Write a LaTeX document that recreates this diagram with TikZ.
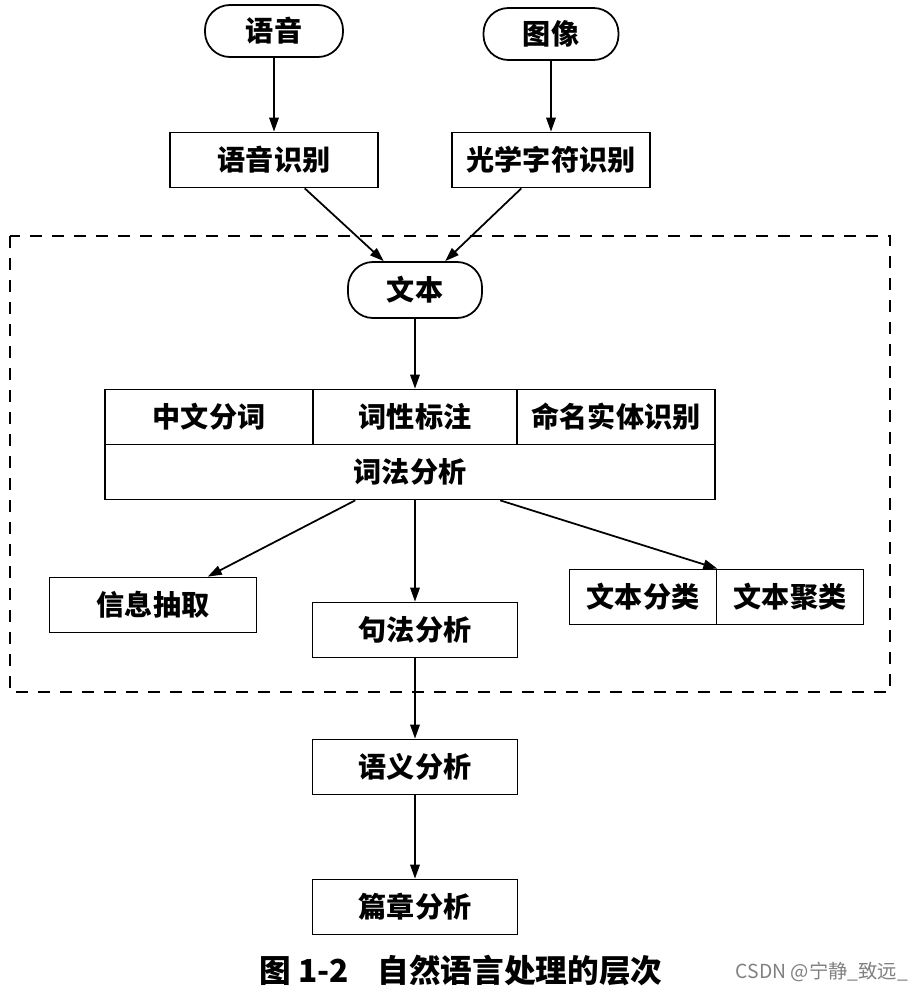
\documentclass[tikz,border=0pt]{standalone}
\usepackage{fontspec}
\newfontfamily\cjk{Noto Sans CJK SC}
\usetikzlibrary{arrows.meta}

\begin{document}
\begin{tikzpicture}[x=0.2mm, y=-0.2mm, >={Triangle[length=2.8mm,width=1.9mm]}, line width=1pt,
		box/.style={draw, rectangle, inner sep=0pt, minimum height=11mm,
			font=\cjk\bfseries\fontsize{16}{18}\selectfont},
		src/.style={box, rounded corners=5mm}]
				\useasboundingbox (0,0) rectangle (917,1000);
				% input side
				\node[src, minimum width=27.6mm, minimum height=10.4mm] (speech) at (274,31)  {语音};
				\node[src, minimum width=27mm,   minimum height=10.4mm] (image)  at (551,34)  {图像};
				\node[box, minimum width=41.6mm] (asr) at (274,160) {语音识别};
				\node[box, minimum width=39.6mm] (ocr) at (551,160) {光学字符识别};
				% dashed region
				\draw[dash pattern=on 2.4mm off 2mm] (10,236) rectangle (890,692);
				\node[src, minimum width=26.8mm, minimum height=11.2mm] (text) at (415,290) {文本};
				\node[box, minimum width=41.6mm] (seg) at (209,417) {中文分词};
				\node[box, minimum width=40.8mm] (pos) at (415,417) {词性标注};
				\node[box, minimum width=39.6mm] (ner) at (616,417) {命名实体识别};
				\node[box, minimum width=122mm]  (lex) at (410,472) {词法分析};
				\node[box, minimum width=41.4mm] (info) at (153,605) {信息抽取};
				\node[box, minimum width=41mm]   (syn)  at (415,630) {句法分析};
				\node[box, minimum width=29.4mm] (cls)  at (643,597) {文本分类};
				\node[box, minimum width=29.4mm] (clu)  at (790,597) {文本聚类};
				% below
				\node[box, minimum width=41mm] (sem) at (415,767) {语义分析};
				\node[box, minimum width=41mm] (dis) at (415,907) {篇章分析};
				\draw[->] (speech) -- (asr);
				\draw[->] (image) -- (ocr);
				\draw[->] (asr) -- (text);
				\draw[->] (ocr) -- (text);
				\draw[->] (text) -- (pos);
				\draw[->] (lex) -- (info);
				\draw[->] (syn.north |- lex.south) -- (syn);
				\draw[->] (lex) -- (cls.north east);
				\draw[->] (syn) -- (sem);
				\draw[->] (sem) -- (dis);
				\node[font=\cjk\bfseries\fontsize{18}{20}\selectfont] (cap) at (461,970) {图 1-2\hspace{0.9em}自然语言处理的层次};
				\node[font=\cjk\fontsize{11}{13}\selectfont, text=gray] (mark) at (822,972) {CSDN @宁静\_致远\_};
\end{tikzpicture}
\end{document}
